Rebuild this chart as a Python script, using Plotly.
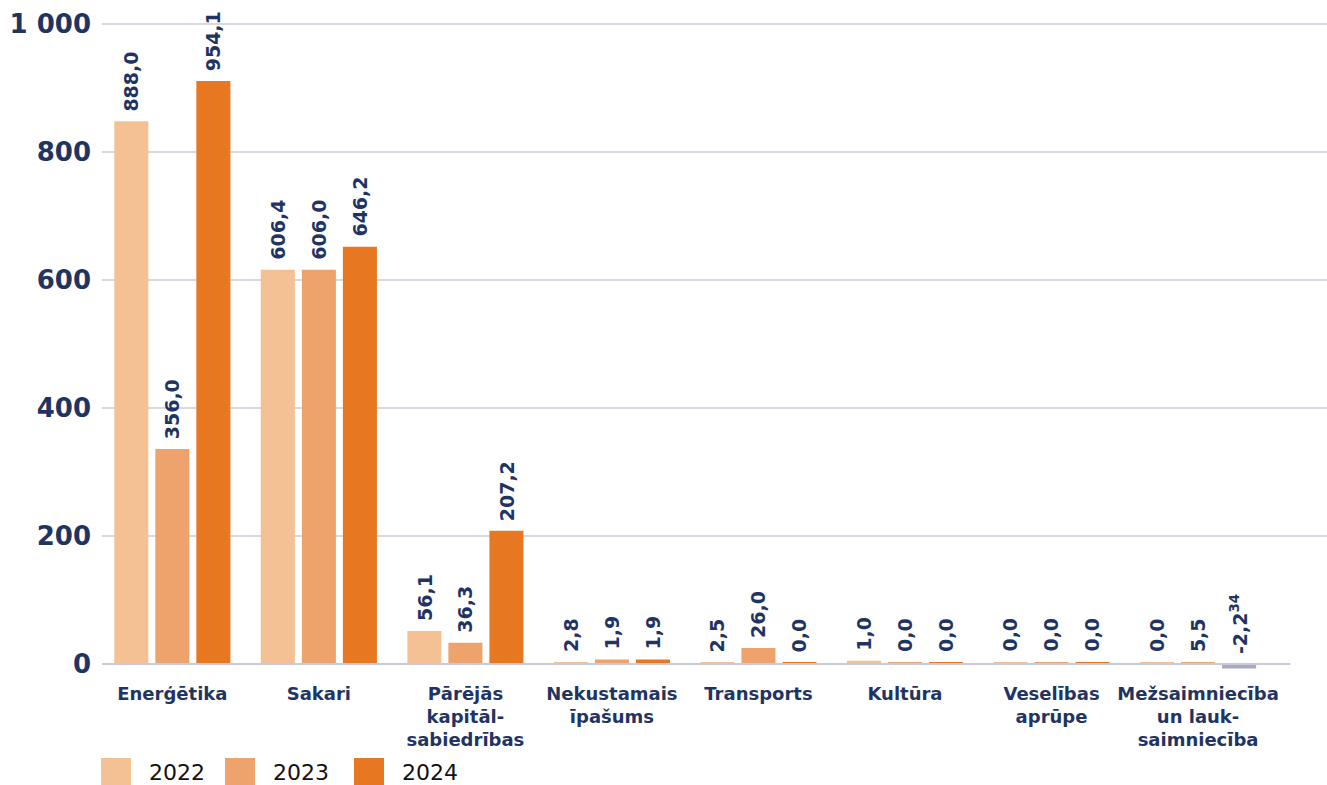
import plotly.graph_objects as go

categories = ["Enerģētika", "Sakari", "Pārējās<br>kapitāl-<br>sabiedrības", "Nekustamais<br>īpašums",
              "Transports", "Kultūra", "Veselības<br>aprūpe", "Mežsaimniecība<br>un lauk-<br>saimniecība"]
years = ["2022", "2023", "2024"]

# bar heights as drawn in the picture
heights_2022 = [848, 616, 51.5, 3, 3, 5, 3, 3]
heights_2023 = [336, 616, 33, 7, 25, 3, 3, 3]
heights_2024 = [911, 652, 208, 7, 3, 3, 3, -7]

# value labels as printed
labels_2022 = ["888,0", "606,4", "56,1", "2,8", "2,5", "1,0", "0,0", "0,0"]
labels_2023 = ["356,0", "606,0", "36,3", "1,9", "26,0", "0,0", "0,0", "5,5"]
labels_2024 = ["954,1", "646,2", "207,2", "1,9", "0,0", "0,0", "0,0", "-2,2<sup>34</sup>"]

y_tickvals = [0, 200, 400, 600, 800, 1000]
y_ticktext = ["0", "200", "400", "600", "800", "1 000"]

colors = ["#F4C195", "#EFA36C", "#E87722"]
negative_color = "#A9AABC"
navy = "#1F3463"

series_heights = [heights_2022, heights_2023, heights_2024]
series_labels = [labels_2022, labels_2023, labels_2024]

fig = go.Figure()
for yr, h, c in zip(years, series_heights, colors):
    fig.add_trace(go.Bar(
        x=categories, y=h, name=yr,
        marker=dict(color=[c if v >= 0 else negative_color for v in h], line=dict(width=0)),
        showlegend=False, hoverinfo="skip",
    ))

# value labels
shifts = [-41, 0, 41]
for h, labs, sh in zip(series_heights, series_labels, shifts):
    for cat, v, t in zip(categories, h, labs):
        fig.add_annotation(
            x=cat, y=max(v, 0), xref="x", yref="y", text=t, textangle=-90,
            showarrow=False, xanchor="center", yanchor="bottom", xshift=sh, yshift=8,
            font=dict(family="DejaVu Sans", size=19, color=navy, weight="bold"),
        )

# baseline
fig.add_shape(type="line", xref="x", yref="y", x0=-0.48, x1=7.63, y0=0, y1=0,
              line=dict(color="#C9CAD8", width=2), layer="above")

# manual legend (large swatches)
legend_x = [101, 225, 354]
for yr, c, lx in zip(years, colors, legend_x):
    fig.add_shape(type="rect", xref="paper", yref="paper",
                  x0=(lx - 102) / 1225, x1=(lx + 30 - 102) / 1225,
                  y0=(675 - 785) / 675, y1=(675 - 758) / 675,
                  fillcolor=c, line=dict(width=0))
    fig.add_annotation(xref="paper", yref="paper", x=(lx + 46 - 102) / 1225, y=(675 - 772) / 675,
                       text=yr, showarrow=False, xanchor="left", yanchor="middle",
                       font=dict(family="DejaVu Sans", size=22, color="#111111"))

fig.update_layout(
    width=1327, height=785,
    margin=dict(l=102, r=0, t=0, b=110),
    paper_bgcolor="white", plot_bgcolor="white",
    barmode="group", bargap=0.16, bargroupgap=0.17,
    showlegend=False,
    xaxis=dict(range=[-0.48, 7.88], showgrid=False, showline=False, zeroline=False,
               ticks="outside", ticklen=2, tickcolor="rgba(0,0,0,0)", tickangle=0,
               tickfont=dict(family="DejaVu Sans", size=18, color=navy, weight="bold")),
    yaxis=dict(range=[-17.2, 1037.5], tickvals=y_tickvals, ticktext=y_ticktext,
               showgrid=False, zeroline=False, showline=False, ticks="",
               ticklabelstandoff=10,
               tickfont=dict(family="DejaVu Sans", size=26, color=navy, weight="bold"),
               minor=dict(tickvals=[200, 400, 600, 800, 1000], showgrid=True,
                          gridcolor="#D8D8E4", gridwidth=1.5, ticks="")),
)

fig.write_html("out.html", config={"displayModeBar": False},
               post_script="document.body.style.margin='0px';document.body.style.overflow='hidden';")
